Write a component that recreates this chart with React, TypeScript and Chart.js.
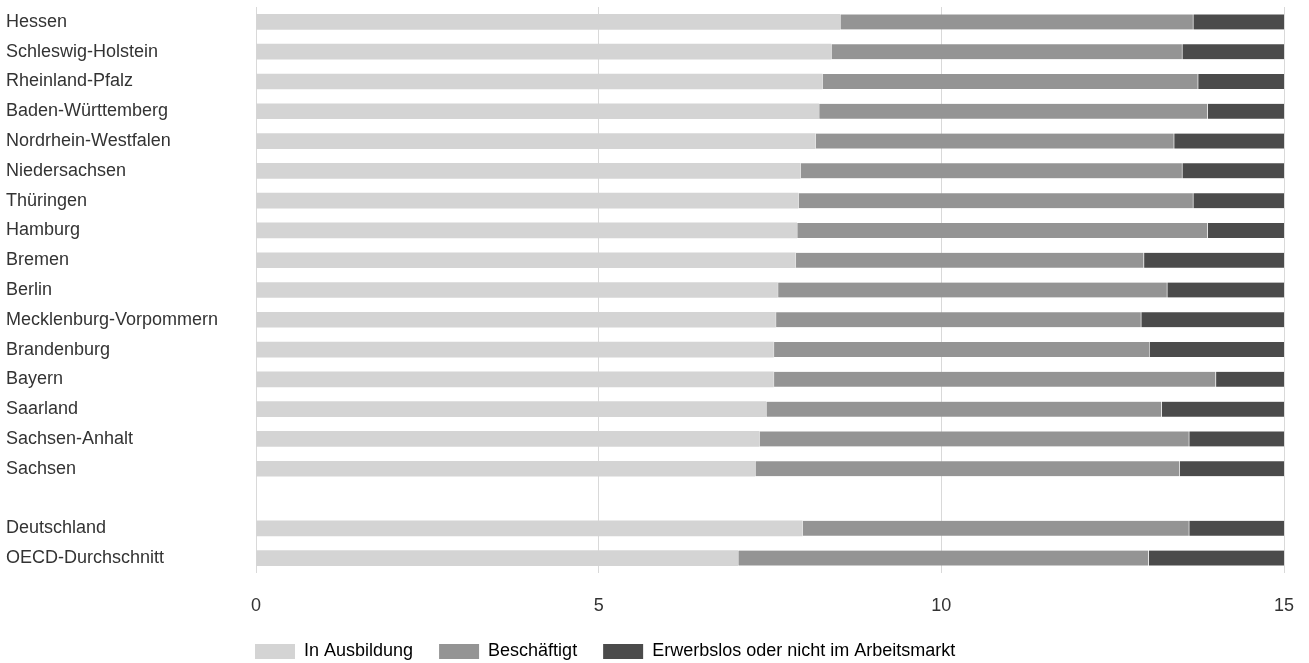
import React, { useEffect, useRef } from "react";
import { Chart, registerables } from "chart.js";

Chart.register(...registerables);

const categories = [
  "Hessen",
  "Schleswig-Holstein",
  "Rheinland-Pfalz",
  "Baden-Württemberg",
  "Nordrhein-Westfalen",
  "Niedersachsen",
  "Thüringen",
  "Hamburg",
  "Bremen",
  "Berlin",
  "Mecklenburg-Vorpommern",
  "Brandenburg",
  "Bayern",
  "Saarland",
  "Sachsen-Anhalt",
  "Sachsen",
  "",
  "Deutschland",
  "OECD-Durchschnitt",
];

const inAusbildung = [8.52, 8.39, 8.26, 8.21, 8.16, 7.94, 7.91, 7.89, 7.87, 7.61, 7.58, 7.55, 7.55, 7.44, 7.34, 7.28, null, 7.97, 7.03];
const beschaeftigt = [5.15, 5.12, 5.48, 5.67, 5.23, 5.57, 5.76, 5.99, 5.08, 5.68, 5.33, 5.48, 6.45, 5.77, 6.27, 6.19, null, 5.64, 5.99];
const erwerbslos = [1.33, 1.49, 1.26, 1.12, 1.61, 1.49, 1.33, 1.12, 2.05, 1.71, 2.09, 1.97, 1.0, 1.79, 1.39, 1.53, null, 1.39, 1.98];

const seriesNames = ["In Ausbildung", "Beschäftigt", "Erwerbslos oder nicht im Arbeitsmarkt"];
const xMin = 0;
const xMax = 15;
const xStep = 5;

const FONT = "'Liberation Sans', Arial, sans-serif";
const TEXT = "#333333";
const LEGEND_PAD = 26;

const legendShift = {
  id: "legendShift",
  afterLayout(chart: any) {
    const lg = chart.legend;
    if (!lg) return;
    const dx = chart.chartArea.left - 1 - LEGEND_PAD - lg.left;
    lg.left += dx;
    lg.right += dx;
    const dy = 616.5 - lg.top;
    lg.top += dy;
    lg.bottom += dy;
  },
};

export default function App() {
  const ref = useRef<HTMLCanvasElement | null>(null);

  useEffect(() => {
    if (!ref.current) return;
    const chart = new Chart(ref.current, {
      type: "bar",
      data: {
        labels: categories,
        datasets: [
          {
            label: seriesNames[0],
            data: inAusbildung,
            backgroundColor: "#d4d4d4",
            borderWidth: 0,
            barThickness: 15,
          },
          {
            label: seriesNames[1],
            data: beschaeftigt,
            backgroundColor: "#949494",
            borderColor: "#ffffff",
            borderWidth: { left: 1, right: 0, top: 0, bottom: 0 },
            borderSkipped: false,
            barThickness: 15,
          },
          {
            label: seriesNames[2],
            data: erwerbslos,
            backgroundColor: "#4b4b4b",
            borderColor: "#ffffff",
            borderWidth: { left: 1, right: 0, top: 0, bottom: 0 },
            borderSkipped: false,
            barThickness: 15,
          },
        ] as any,
      },
      options: {
        indexAxis: "y",
        animation: false,
        responsive: true,
        maintainAspectRatio: false,
        layout: { padding: { left: 6, right: 25, top: 7, bottom: 0 } },
        plugins: {
          tooltip: { enabled: false },
          legend: {
            position: "bottom",
            align: "start",
            fullSize: false,
            maxHeight: 46,
            labels: {
              boxWidth: 40,
              boxHeight: 15,
              padding: LEGEND_PAD,
              color: TEXT,
              font: { family: FONT, size: 18 },
              generateLabels: (chart: any) =>
                chart.data.datasets.map((ds: any, i: number) => ({
                  text: ds.label,
                  fillStyle: ds.backgroundColor,
                  strokeStyle: ds.backgroundColor,
                  lineWidth: 0,
                  hidden: false,
                  datasetIndex: i,
                })),
            },
          },
        },
        scales: {
          x: {
            stacked: true,
            min: xMin,
            max: xMax,
            afterFit: (scale: any) => {
              scale.height = 44;
              scale.paddingLeft = 0;
              scale.paddingRight = 0;
            },
            ticks: {
              stepSize: xStep,
              color: TEXT,
              font: { family: FONT, size: 18 },
              padding: 22,
              maxRotation: 0,
            },
            grid: { color: "#d9d9d9", lineWidth: 1, drawTicks: false },
            border: { display: false },
          },
          y: {
            stacked: true,
            afterFit: (scale: any) => {
              scale.width = 250;
              scale.paddingTop = 0;
              scale.paddingBottom = 0;
            },
            ticks: {
              color: TEXT,
              font: { family: FONT, size: 18 },
              crossAlign: "far",
              autoSkip: false,
              padding: 0,
            },
            grid: { display: false, drawTicks: false },
            border: { display: false },
          },
        },
      } as any,
      plugins: [legendShift],
    });
    return () => chart.destroy();
  }, []);

  return (
    <div style={{ position: "absolute", left: 0, top: 0, width: 1309, height: 663 }}>
      <canvas ref={ref} />
    </div>
  );
}
